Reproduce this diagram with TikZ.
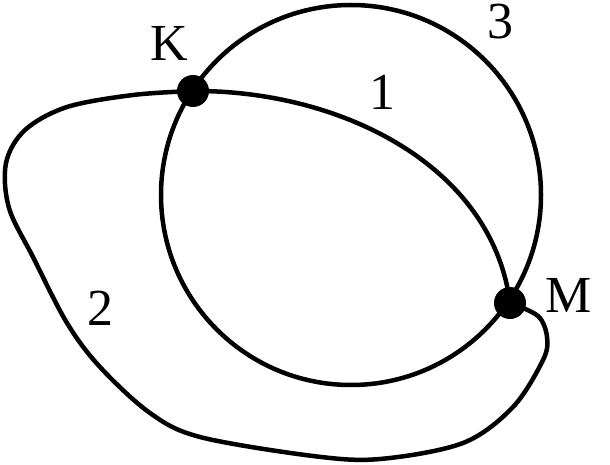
\documentclass[tikz,border=0pt]{standalone}
\usepackage{fontspec}
\newfontfamily\labfont{Liberation Serif}
\begin{document}
\begin{tikzpicture}[x=1pt,y=-1pt,
  curve/.style={line width=4.5pt,line join=round},
  vertex/.style={circle,fill=black,inner sep=0pt,minimum size=32pt},
  lab/.style={inner sep=0pt,font=\labfont\fontsize{52}{52}\selectfont}]
\useasboundingbox (0,0) rectangle (610,465);
% circle 3
\coordinate (O) at (351,195);
\draw[curve] (O) circle[radius=190];
% vertices
\coordinate (K) at (193,91);
\coordinate (M) at (510,303);
% curve 1
\draw[curve] (K) .. controls (340,90) and (492,165) .. (M);
% curve 2
\draw[curve] plot[smooth,tension=0.55] coordinates {(K) (133,95) (67,107) (25,130) (6,163) (9,208) (33,257) (67,323) (100,367) (150,413) (200,437) (313,456) (380,459) (463,443) (513,407) (543,360) (547,337) (538,316) (M)};
\node[vertex] (k) at (K) {};
\node[vertex] (m) at (M) {};
% labels
\node[lab] (lk) at (169,43) {K};
\node[lab] (lm) at (569,295) {M};
\node[lab] (l1) at (382,92) {1};
\node[lab] (l2) at (100,308) {2};
\node[lab] (l3) at (500,22) {3};
\end{tikzpicture}
\end{document}
